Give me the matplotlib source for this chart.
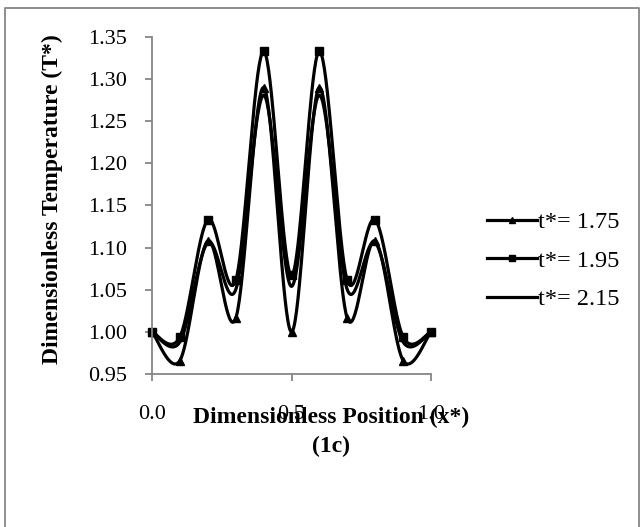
import numpy as np
import matplotlib.pyplot as plt
from matplotlib.lines import Line2D

# data (x* = 0 .. 1 in steps of 0.1)
x_pos = [0.0, 0.1, 0.2, 0.3, 0.4, 0.5, 0.6, 0.7, 0.8, 0.9, 1.0]
t_175 = [1.000, 0.966, 1.108, 1.016, 1.290, 1.000, 1.290, 1.016, 1.108, 0.966, 1.000]
t_195 = [1.000, 0.994, 1.133, 1.061, 1.333, 1.067, 1.333, 1.061, 1.133, 0.994, 1.000]
t_215 = [1.000, 0.988, 1.106, 1.050, 1.281, 1.054, 1.281, 1.050, 1.106, 0.988, 1.000]
labels = ["t*= 1.75", "t*= 1.95", "t*= 2.15"]
x_ticks = [0.0, 0.5, 1.0]

plt.rcParams['font.family'] = ['Liberation Serif', 'DejaVu Serif']
GRAY = '#868686'
W, H = 642, 527


def smooth(xs, ys, n=40):
    # Excel-like smoothed line: bezier segments with catmull-rom control points
    p = np.column_stack([xs, ys]).astype(float)
    p = np.vstack([p[0], p, p[-1]])
    out = []
    for i in range(1, len(p) - 2):
        p0, p1, p2, p3 = p[i - 1], p[i], p[i + 1], p[i + 2]
        c1 = p1 + (p2 - p0) / 6
        c2 = p2 - (p3 - p1) / 6
        t = np.linspace(0, 1, n)[:, None]
        seg = (1 - t) ** 3 * p1 + 3 * (1 - t) ** 2 * t * c1 + 3 * (1 - t) * t ** 2 * c2 + t ** 3 * p2
        out.append(seg if i == 1 else seg[1:])
    out = np.vstack(out)
    return out[:, 0], out[:, 1]


fig = plt.figure(figsize=(W / 100, H / 100), dpi=100)
ax = fig.add_axes([152 / W, 1 - 374 / H, (431 - 152) / W, (374 - 37) / H])

series = [(t_175, '^', 6), (t_195, 's', 5.5), (t_215, None, 0)]
handles = []
for (ys, mk, ms), lab in zip(series, labels):
    sx, sy = smooth(x_pos, ys)
    ax.plot(sx, sy, color='black', lw=2.3, solid_capstyle='round', clip_on=False)
    if mk:
        ax.plot(x_pos, ys, ls='none', marker=mk, ms=ms, color='black', clip_on=False)
    handles.append(Line2D([], [], color='black', lw=2.3, marker=mk, ms=ms - 1 if mk else 0))

ax.set_xlim(0, 1)
ax.set_ylim(0.95, 1.35)
ax.set_xticks(x_ticks)
ax.set_xticklabels(["%.1f" % v for v in x_ticks])
ax.set_yticks(np.arange(0.95, 1.351, 0.05))
ax.set_yticklabels(["%.2f" % v for v in np.arange(0.95, 1.351, 0.05)])
for s in ['top', 'right']:
    ax.spines[s].set_visible(False)
for s in ['left', 'bottom']:
    ax.spines[s].set_color(GRAY)
    ax.spines[s].set_linewidth(1.3)
ax.tick_params(axis='y', direction='out', length=5, width=1.3, color=GRAY, labelsize=16, pad=13)
ax.tick_params(axis='x', direction='out', length=5, width=1.3, color=GRAY, labelsize=16, pad=17)

fig.text(52 / W, 1 - 199.5 / H, "Dimensionless Temperature (T*)", rotation=90,
         ha='center', va='center', fontsize=17, fontweight='bold')
fig.text(331 / W, 1 - 423 / H, "Dimensionless Position (x*)", ha='center', va='baseline',
         fontsize=17, fontweight='bold')
fig.text(331 / W, 1 - 452 / H, "(1c)", ha='center', va='baseline', fontsize=17, fontweight='bold')

fig.legend(handles, labels, loc='upper left', bbox_to_anchor=(487 / W, 1 - 211 / H),
           frameon=False, fontsize=17.5, handlelength=2.05, handletextpad=0.05,
           labelspacing=0.68, borderpad=0, borderaxespad=0)

# chart border
fig.add_artist(Line2D([5 / W, 5 / W, 639 / W, 639 / W], [0, 1 - 8 / H, 1 - 8 / H, 0],
                      transform=fig.transFigure, color=GRAY, lw=1.3))

plt.savefig("out.png", dpi=100)
